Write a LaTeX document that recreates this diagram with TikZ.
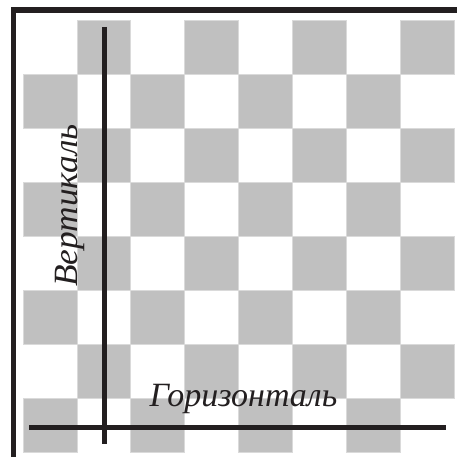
\documentclass[tikz,border=0pt]{standalone}
\usepackage{fontspec}
\setmainfont{Liberation Serif}
\definecolor{sq}{RGB}{192,192,192}
\definecolor{sqedge}{RGB}{218,218,218}
\definecolor{ink}{RGB}{35,31,32}
\tikzset{
  cell/.style={fill=sq, draw=sqedge, line width=0.8pt},
  axisline/.style={draw=ink, line width=5.5pt},
  label/.style={font=\itshape\fontsize{34}{34}\selectfont, text=ink, inner sep=0pt}
}
\begin{document}
\begin{tikzpicture}[x=1pt,y=-1pt]
\useasboundingbox (0,0) rectangle (457,457);
\fill[white] (0,0) rectangle (457,457);
\foreach \r in {0,...,7}{
  \foreach \c in {0,...,7}{
    \pgfmathtruncatemacro\cellpar{mod(\r+\c,2)}
    \ifnum\cellpar=1
      \path[cell] ({23+53.9*\c},{20+54*\r}) rectangle ++(53.9,54);
    \fi
  }
}
\coordinate (bl) at (13.5,457);
\coordinate (tl) at (13.5,10);
\coordinate (tr) at (457,10);
\draw[axisline, line join=miter] (bl) -- (tl) -- (tr);
\coordinate (vtop) at (104.5,27);
\coordinate (vbot) at (104.5,444);
\coordinate (hl) at (29,427.5);
\coordinate (hr) at (446,427.5);
\draw[axisline] (vtop) -- (vbot);
\draw[axisline] (hl) -- (hr);
\node[label, rotate=90, xscale=1.04] (vert) at (70,205.5) {Вертикаль};
\node[label] (horiz) at (243.5,399) {Горизонталь};
\end{tikzpicture}
\end{document}
